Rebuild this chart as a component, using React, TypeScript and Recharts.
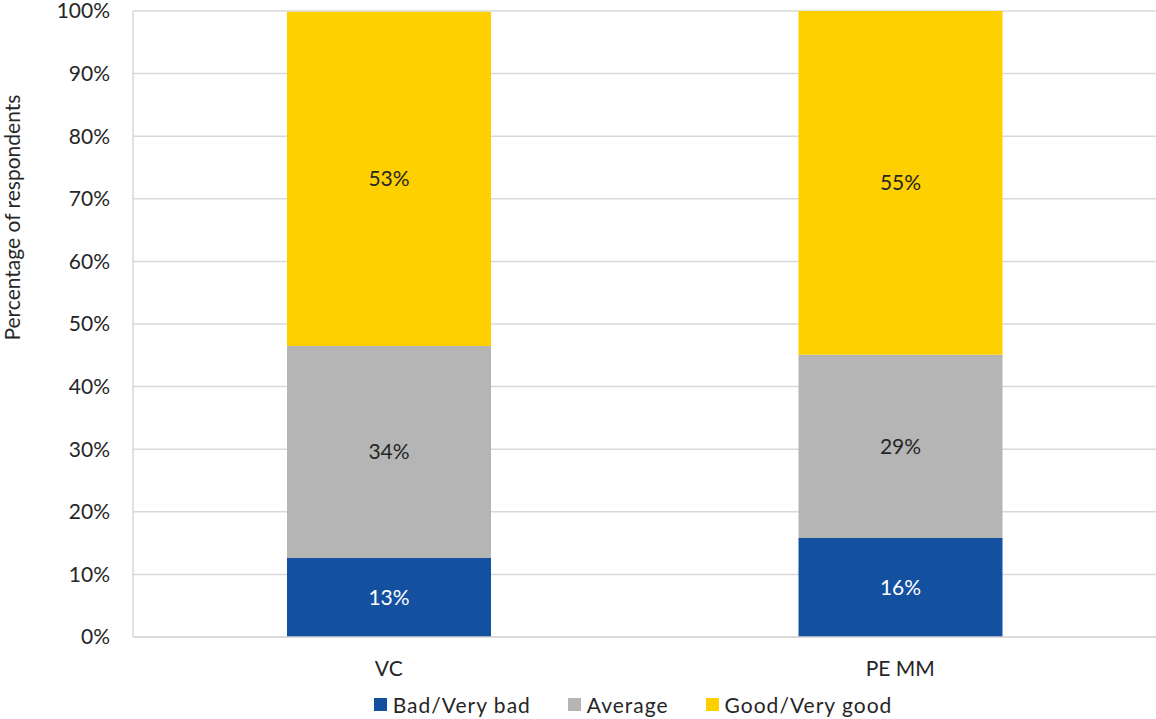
import { BarChart, Bar, XAxis, YAxis, CartesianGrid, Legend, LabelList } from 'recharts';

const categories = ['VC', 'PE MM'];
const badValues = [12.6, 15.8];
const averageValues = [33.9, 29.3];
const goodValues = [53.4, 54.9];
const badLabels = ['13%', '16%'];
const averageLabels = ['34%', '29%'];
const goodLabels = ['53%', '55%'];
const yTicks = [0, 10, 20, 30, 40, 50, 60, 70, 80, 90, 100];

const FONT = 'Lato, "Open Sans", sans-serif';
const TEXT = '#262626';

const series = [
  { key: 'bad', name: 'Bad/Very bad', color: '#1450a0', values: badValues, labels: badLabels, labelColor: '#ffffff' },
  { key: 'average', name: 'Average', color: '#b5b5b5', values: averageValues, labels: averageLabels, labelColor: TEXT },
  { key: 'good', name: 'Good/Very good', color: '#ffd000', values: goodValues, labels: goodLabels, labelColor: TEXT },
];

const data = categories.map((name, i) => ({
  name,
  bad: badValues[i],
  average: averageValues[i],
  good: goodValues[i],
}));

const renderLegend = () => (
  <div style={{ display: 'flex', justifyContent: 'center', fontFamily: FONT, fontSize: 21, letterSpacing: 1, color: TEXT, paddingLeft: 110 }}>
    {series.map((s, i) => (
      <div key={s.key} style={{ display: 'flex', alignItems: 'center', marginRight: i < series.length - 1 ? 37 : 0 }}>
        <span style={{ width: 13, height: 13, background: s.color, display: 'inline-block', marginRight: 6 }} />
        <span>{s.name}</span>
      </div>
    ))}
  </div>
);

const AxisTitle = (props: any) => {
  const { viewBox } = props;
  const x = viewBox.x + 20;
  const y = viewBox.y + viewBox.height * 0.33;
  return (
    <text x={x} y={y} transform={`rotate(-90, ${x}, ${y})`} textAnchor="middle" fontFamily={FONT} fontSize={21} fill={TEXT}>
      Percentage of respondents
    </text>
  );
};

export default function App() {
  return (
    <div style={{ position: 'absolute', left: 0, top: 0, background: '#fff' }}>
      <BarChart
        width={1156}
        height={719}
        data={data}
        margin={{ top: 11, right: 0, bottom: 0, left: 0 }}
      >
        <CartesianGrid vertical={false} stroke="#d9d9d9" strokeWidth={1.5} />
        <XAxis
          dataKey="name"
          axisLine={{ stroke: '#d9d9d9', strokeWidth: 1.5 }}
          tickLine={false}
          tick={{ fontFamily: FONT, fontSize: 21, fill: TEXT }}
          tickMargin={18}
          height={57}
        />
        <YAxis
          domain={[0, 100]}
          ticks={yTicks}
          interval={0}
          width={133}
          axisLine={{ stroke: '#d9d9d9', strokeWidth: 1.5 }}
          tickLine={false}
          tickFormatter={(v: number) => `${v}%`}
          tick={{ fontFamily: FONT, fontSize: 21, fill: TEXT }}
          tickMargin={17}
          label={<AxisTitle />}
        />
        <Legend content={renderLegend} verticalAlign="bottom" wrapperStyle={{ bottom: 2 }} />
        {series.map((s) => (
          <Bar key={s.key} dataKey={s.key} name={s.name} stackId="a" fill={s.color} barSize={204} isAnimationActive={false}>
            <LabelList
              dataKey={s.key}
              position="center"
              formatter={(v: any) => s.labels[s.values.indexOf(v)]}
              style={{ fontFamily: FONT, fontSize: 21, fill: s.labelColor }}
            />
          </Bar>
        ))}
      </BarChart>
    </div>
  );
}
